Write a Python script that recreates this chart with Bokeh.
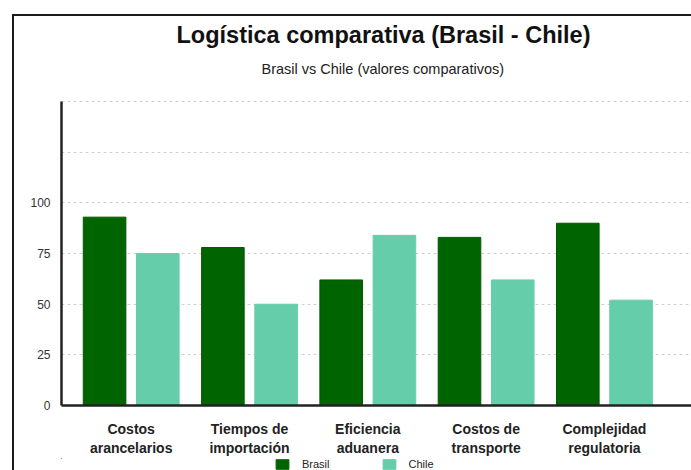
from bokeh.plotting import figure
from bokeh.layouts import column
from bokeh.models import (Range1d, FixedTicker, Title, Legend, LegendItem, ColumnDataSource)
from bokeh.transform import dodge
from bokeh.embed import file_html
from bokeh.resources import INLINE

categories = ["Costos\narancelarios", "Tiempos de\nimportación", "Eficiencia\naduanera",
              "Costos de\ntransporte", "Complejidad\nregulatoria"]
brasil = [93, 78, 62, 83, 90]
chile = [75, 50, 84, 62, 52]
y_ticks = [0, 25, 50, 75, 100, 125, 150]
y_labels = ["0", "25", "50", "75", "100", "", ""]
series = ["Brasil", "Chile"]
colors = ["#006400", "#66CDAA"]

pos = list(range(len(categories)))
src = ColumnDataSource(dict(x=pos, brasil=brasil, chile=chile))

FONT = "Liberation Sans"

p = figure(width=677, height=442, output_backend="svg", toolbar_location=None,
           x_range=Range1d(-0.589, 4.736), y_range=Range1d(0, 158),
           min_border_left=47, min_border_right=0, min_border_top=0, min_border_bottom=0)
p.outline_line_color = None

r1 = p.vbar(x=dodge("x", -0.225), top="brasil", width=0.36, source=src,
            fill_color=colors[0], line_color="#005a00", line_width=1)
r2 = p.vbar(x=dodge("x", 0.225), top="chile", width=0.36, source=src,
            fill_color=colors[1], line_color=colors[1], line_width=1)

sub = Title(text="Brasil vs Chile (valores comparativos)", align="left", offset=200,
            text_font=FONT, text_font_size="14.5px", text_font_style="normal",
            text_color="#222222", standoff=17)
main = Title(text="Logística comparativa (Brasil - Chile)", align="left", offset=115,
             text_font=FONT, text_font_size="23.5px", text_font_style="bold",
             text_color="#111111", standoff=6)
p.add_layout(sub, "above")
p.add_layout(main, "above")

# y axis
p.yaxis.ticker = FixedTicker(ticks=y_ticks)
p.yaxis.bounds = (0, 150)
p.yaxis.major_label_overrides = {t: l for t, l in zip(y_ticks, y_labels)}
p.yaxis.major_tick_line_color = None
p.yaxis.major_tick_out = 0
p.yaxis.major_tick_in = 0
p.yaxis.minor_tick_line_color = None
p.yaxis.axis_line_width = 2.5
p.yaxis.axis_line_color = "#222222"
p.yaxis.major_label_text_font = FONT
p.yaxis.major_label_text_font_size = "12px"
p.yaxis.major_label_text_color = "#333333"
p.yaxis.major_label_standoff = 11

# x axis
p.xaxis.ticker = FixedTicker(ticks=pos)
p.xaxis.major_label_overrides = {i: c for i, c in zip(pos, categories)}
p.xaxis.major_tick_line_color = None
p.xaxis.major_tick_out = 0
p.xaxis.major_tick_in = 0
p.xaxis.minor_tick_line_color = None
p.xaxis.axis_line_width = 2.5
p.xaxis.axis_line_color = "#222222"
p.xaxis.major_label_text_font = FONT
p.xaxis.major_label_text_font_size = "14px"
p.xaxis.major_label_text_font_style = "bold"
p.xaxis.major_label_text_color = "#222222"
p.xaxis.major_label_standoff = 15

p.xgrid.grid_line_color = None
p.ygrid.grid_line_color = "#d0d0d0"
p.ygrid.grid_line_dash = "3 3"
p.ygrid.grid_line_width = 1

# legend strip (separate small figure, renderers kept off-range)
pl = figure(width=677, height=12, output_backend="svg", toolbar_location=None,
            x_range=Range1d(100, 101), y_range=Range1d(-10, -5),
            x_axis_type=None, y_axis_type=None,
            min_border_left=0, min_border_right=0, min_border_top=0, min_border_bottom=0)
pl.outline_line_color = None
pl.xgrid.visible = False
pl.ygrid.visible = False
l1 = pl.vbar(x="x", top="brasil", width=0.36, source=src, fill_color=colors[0], line_color=colors[0])
l2 = pl.vbar(x="x", top="chile", width=0.36, source=src, fill_color=colors[1], line_color=colors[1])
legend = Legend(items=[LegendItem(label=series[0], renderers=[l1]),
                       LegendItem(label=series[1], renderers=[l2])],
                orientation="horizontal", location=(213, 0),
                glyph_width=16, glyph_height=12, label_standoff=12, spacing=51,
                label_text_font=FONT, label_text_font_size="11px",
                label_text_color="#222222", padding=0, margin=0,
                border_line_color=None, background_fill_alpha=0, label_height=12)
pl.add_layout(legend)

lay = column(p, pl, spacing=0, margin=(14, 0, 0, 12),
             styles={"border-left": "2px solid #1a1a1a", "border-top": "2px solid #1a1a1a"})

open("out.html", "w").write(file_html(lay, INLINE))
